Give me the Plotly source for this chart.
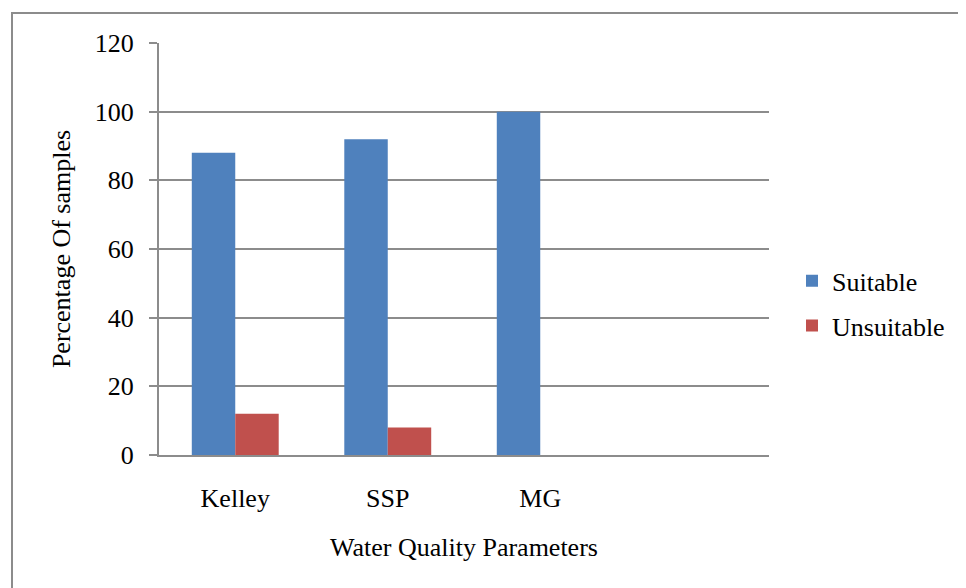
import plotly.graph_objects as go

categories = ["Kelley", "SSP", "MG"]
suitable = [88, 92, 100]
unsuitable = [12, 8, 0]
y_ticks = [0, 20, 40, 60, 80, 100, 120]

FONT = "Liberation Serif"
GRID = "#8c8c8c"
FS = 26

# page body has an 8px default margin; work in figure coordinates
W, H = 958, 580
L, R, T, B = 151, 197, 35, 133
pw, ph = W - L - R, H - T - B

def px_x(x):
    return (x - L) / pw

def px_y(y):
    return (H - B - y) / ph

fig = go.Figure()
fig.add_trace(go.Bar(name="Suitable", x=categories, y=suitable,
                     marker=dict(color="#4F81BD", line=dict(width=0)),
                     legendgroup="a"))
fig.add_trace(go.Bar(name="Unsuitable", x=categories, y=unsuitable,
                     marker=dict(color="#C0504D", line=dict(width=0)),
                     legendgroup="b"))

fig.update_layout(
    width=W, height=H,
    margin=dict(l=L, r=R, t=T, b=B, pad=0),
    paper_bgcolor="white", plot_bgcolor="white",
    font=dict(family=FONT, size=FS, color="black"),
    barmode="group", bargap=0.43, bargroupgap=0,
    showlegend=True,
    legend=dict(x=px_x(784), xanchor="left", y=0.368, yanchor="middle",
                font=dict(family=FONT, size=FS, color="black"),
                tracegroupgap=8, bgcolor="rgba(0,0,0,0)"),
    xaxis=dict(range=[-0.5, 3.5], showgrid=False, showline=True,
               linecolor=GRID, linewidth=2, ticks="", ticklabelstandoff=19,
               title=dict(text="Water Quality Parameters", standoff=26,
                          font=dict(family=FONT, size=FS)),
               fixedrange=True),
    yaxis=dict(range=[0, 120], tickvals=y_ticks, showgrid=True,
               gridcolor=GRID, gridwidth=2, showline=True, linecolor=GRID,
               linewidth=2, ticks="outside", ticklen=8, tickcolor=GRID,
               tickwidth=2, ticklabelstandoff=10, zeroline=False,
               title=dict(text="Percentage Of samples", standoff=17,
                          font=dict(family=FONT, size=FS)),
               fixedrange=True),
    shapes=[dict(type="rect", xref="paper", yref="paper",
                 x0=px_x(4), x1=px_x(970), y0=px_y(600), y1=px_y(5),
                 line=dict(color=GRID, width=2), fillcolor="rgba(0,0,0,0)",
                 layer="below")],
)

fig.write_html("out.html")
